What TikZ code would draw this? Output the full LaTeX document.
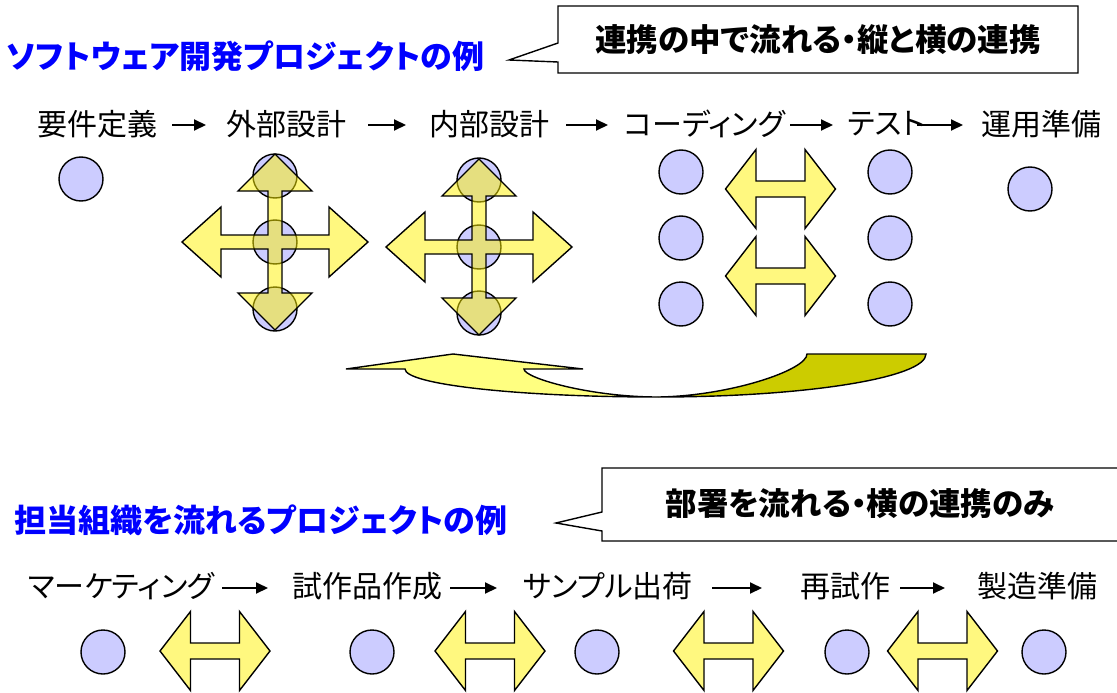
\documentclass[tikz,border=0pt]{standalone}
\usepackage{fontspec}
\newfontfamily\jp[RawFeature=+palt]{Noto Sans CJK JP}
\usetikzlibrary{arrows.meta}
\definecolor{dotfill}{HTML}{CCCCFF}
\definecolor{titleblue}{HTML}{0000FF}
\definecolor{darkolive}{HTML}{CCCC00}
\definecolor{lightyel}{HTML}{FFFF80}
\tikzset{
  dot/.style={circle, draw=black, line width=1.4pt, fill=dotfill, minimum size=44pt, inner sep=0pt},
  yarrow/.style={draw=black, line width=1.4pt, fill=yellow, fill opacity=0.5, line join=miter},
  tarrow/.style={line width=2pt, -{Triangle[length=12pt,width=11pt]}},
  lbl/.style={font=\jp\fontsize{30}{30}\selectfont, inner sep=0pt, anchor=west},
  titletext/.style={font=\jp\bfseries\fontsize{32}{32}\selectfont, text=titleblue, inner sep=0pt},
  ctext/.style={font=\jp\bfseries\fontsize{31.5}{31.5}\selectfont, inner sep=0pt},
  callout/.style={draw=black, line width=1.4pt, fill=white, line join=miter},
  curvearrow/.style={draw=black, line width=1.4pt, line join=miter}
}
\newcommand{\dblarrowshape}[2]{%
  \draw[yarrow, shift={(#1,#2)}] (55,0) -- (24.5,-39.5) -- (24.5,-8) -- (-24.5,-8) -- (-24.5,-39.5) -- (-55,0)
    -- (-24.5,39.5) -- (-24.5,8) -- (24.5,8) -- (24.5,39.5) -- cycle;}
\newcommand{\crossarrowshape}[2]{%
  \draw[yarrow, shift={(#1,#2)}] (93,0) -- (54,-35) -- (54,-7) -- (7,-7) -- (7,-51) -- (37,-51) -- (0,-88)
    -- (-37,-51) -- (-7,-51) -- (-7,-7) -- (-54,-7) -- (-54,-35) -- (-93,0) -- (-54,35) -- (-54,7)
    -- (-7,7) -- (-7,51) -- (-37,51) -- (0,88) -- (37,51) -- (7,51) -- (7,7) -- (54,7) -- (54,35) -- cycle;}
\begin{document}
\begin{tikzpicture}[x=1pt,y=-1pt]
\useasboundingbox (0,0) rectangle (1117,693);

% ---------- top section ----------
\node[titletext] (t1) at (245.5,56) {ソフトウェア開発プロジェクトの例};
\draw[callout] (558,6) -- (1078,6) -- (1078,73) -- (558,73) -- (558,62) -- (509,60) -- (558,43) -- cycle;
\node[ctext] (c1) at (818,40) {連携の中で流れる・縦と横の連携};

\node[lbl] (l1) at (37,124) {要件定義};
\node[lbl] (l2) at (226,124) {外部設計};
\node[lbl] (l3) at (429,124) {内部設計};
\node[lbl] (l4) at (624,124) {コーディング};
\node[lbl] (l5) at (848,124) {テスト};
\node[lbl] (l6) at (981,124) {運用準備};

\coordinate (a1s) at (172,125); \coordinate (a1e) at (206,125);
\coordinate (a2s) at (368,125); \coordinate (a2e) at (406,125);
\coordinate (a3s) at (566,125); \coordinate (a3e) at (608,125);
\coordinate (a4s) at (790,125); \coordinate (a4e) at (833,125);
\coordinate (a5s) at (917,125); \coordinate (a5e) at (963,125);
\foreach \i in {1,...,5} \draw[tarrow] (a\i s) -- (a\i e);

\node[dot] (d1) at (81,179) {};
\node[dot] (d2a) at (275,176) {};
\node[dot] (d2b) at (275,242) {};
\node[dot] (d2c) at (275,309) {};
\node[dot] (d3a) at (479,180) {};
\node[dot] (d3b) at (479,247) {};
\node[dot] (d3c) at (479,313) {};
\node[dot] (d4a) at (681,172) {};
\node[dot] (d4b) at (681,238) {};
\node[dot] (d4c) at (681,304) {};
\node[dot] (d5a) at (890,172) {};
\node[dot] (d5b) at (890,238) {};
\node[dot] (d5c) at (890,304) {};
\node[dot] (d6) at (1030,189) {};

\crossarrowshape{275}{242}
\crossarrowshape{479}{247}
\dblarrowshape{780.5}{189}
\dblarrowshape{780.5}{276}

% curved return arrow
\draw[curvearrow, fill=lightyel] (346,369) -- (405,369) .. controls (405,384.5) and (518.3,397) .. (658,397)
   .. controls (590,397) and (524,378) .. (524,369) -- (583,369) -- (453,354) -- cycle;
\draw[curvearrow, fill=darkolive] (658,397) .. controls (806,397) and (926,377.7) .. (926,354) -- (807,354)
   .. controls (807,370) and (730,396) .. (658,397) -- cycle;

% ---------- bottom section ----------
\node[titletext] (t2) at (261,520) {担当組織を流れるプロジェクトの例};
\draw[callout] (602,468) -- (1135,468) -- (1135,541) -- (602,541) -- (602,531) -- (556,523) -- (602,512) -- cycle;
\node[ctext] (c2) at (860,504) {部署を流れる・横の連携のみ};

\node[lbl] (m1) at (28,586) {マーケティング};
\node[lbl] (m2) at (292,586) {試作品作成};
\node[lbl] (m3) at (523,586) {サンプル出荷};
\node[lbl] (m4) at (800,586) {再試作};
\node[lbl] (m5) at (977,586) {製造準備};

\coordinate (b1s) at (222,588); \coordinate (b1e) at (268,588);
\coordinate (b2s) at (450,588); \coordinate (b2e) at (497,588);
\coordinate (b3s) at (712,588); \coordinate (b3e) at (762,588);
\coordinate (b4s) at (900,588); \coordinate (b4e) at (945,588);
\foreach \i in {1,...,4} \draw[tarrow] (b\i s) -- (b\i e);

\node[dot] (e1) at (103,652) {};
\node[dot] (e2) at (372,652) {};
\node[dot] (e3) at (597,652) {};
\node[dot] (e4) at (847,652) {};
\node[dot] (e5) at (1044,652) {};

\dblarrowshape{215}{651}
\dblarrowshape{490}{651}
\dblarrowshape{728.5}{651}
\dblarrowshape{942.5}{651}
\end{tikzpicture}
\end{document}
